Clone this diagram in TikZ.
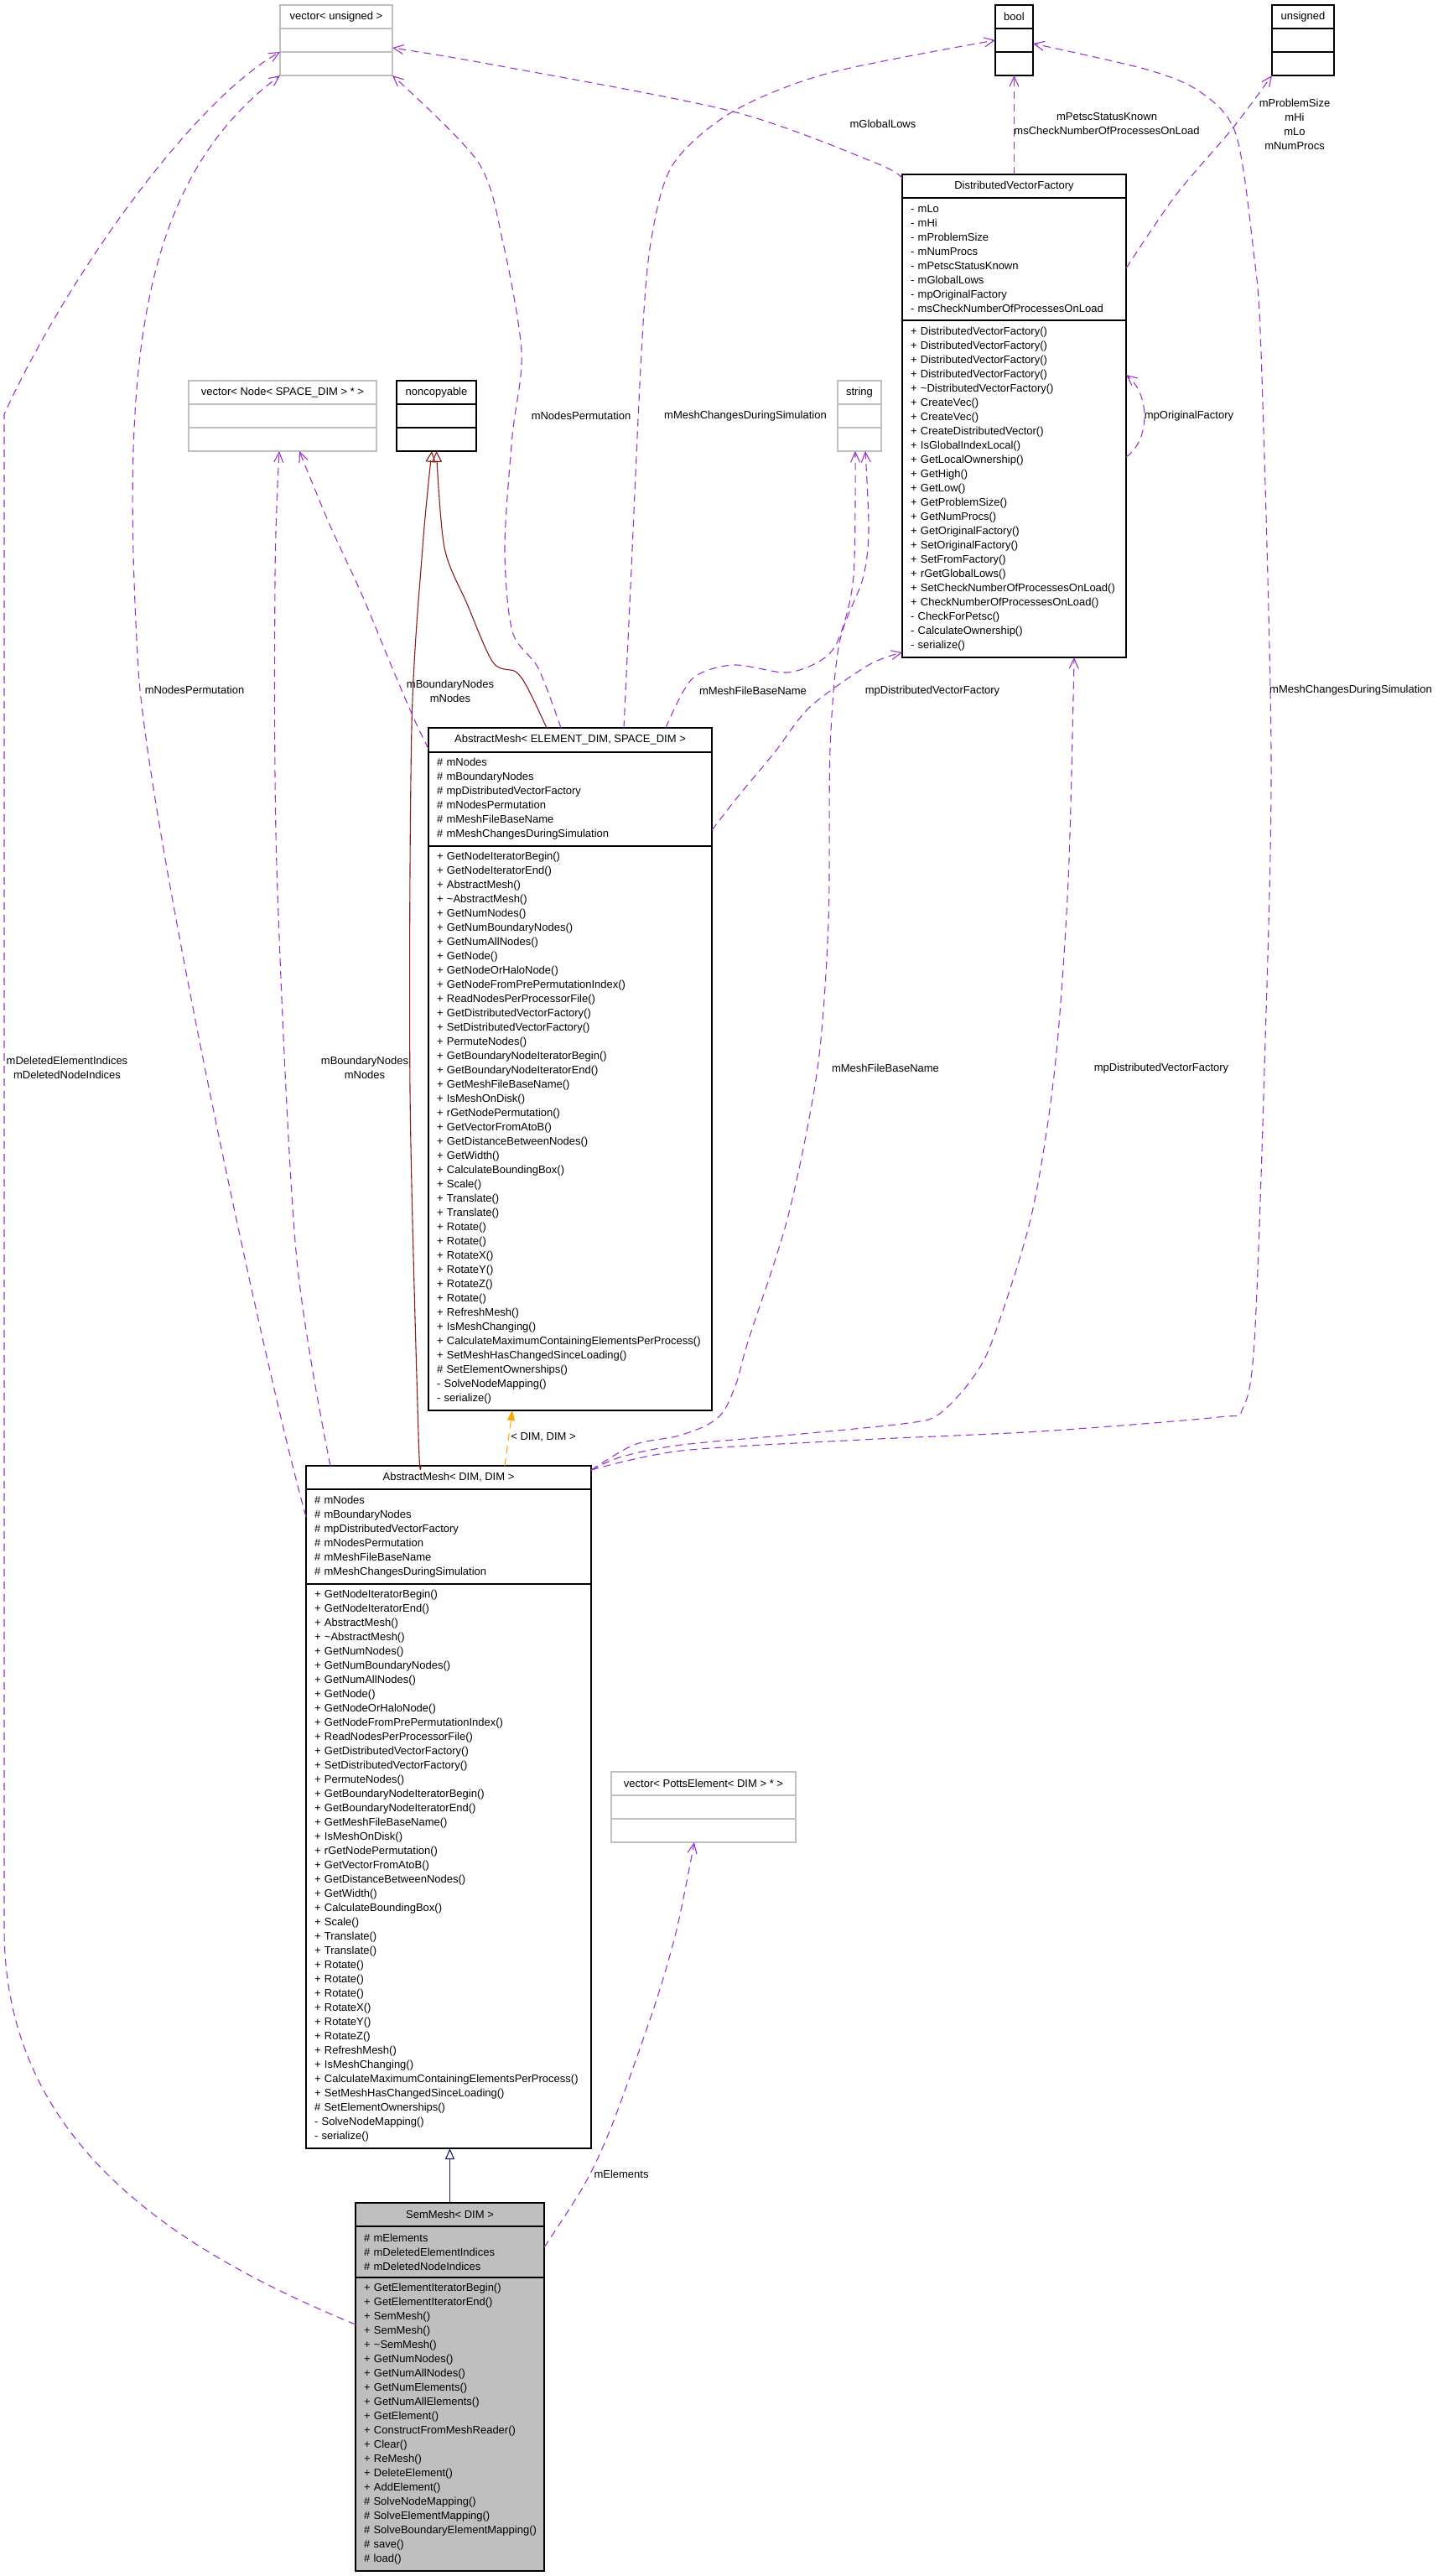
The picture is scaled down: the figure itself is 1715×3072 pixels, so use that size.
\documentclass[tikz,border=0pt]{standalone}
\usepackage{fontspec}
\setmainfont{Liberation Sans}
\usetikzlibrary{positioning,arrows.meta}

\definecolor{refpurple}{HTML}{9A32CD}
\definecolor{inhredc}{HTML}{8B1A1A}
\definecolor{inhbluec}{HTML}{191970}
\definecolor{tmplorangec}{HTML}{FFA500}
\definecolor{extgray}{HTML}{BFBFBF}

\newcommand{\umlfont}{\fontsize{13}{17}\selectfont}

\tikzset{
  cls/.style={draw=black, line width=1.3pt, outer sep=0pt, inner xsep=10pt, inner ysep=0pt, font=\umlfont},
  ext/.style={cls, draw=extgray},
  hdr/.style={anchor=north west, minimum height=28pt},
  part/.style={minimum height=28pt},
  mem/.style={align=left, execute at begin node={\hyphenpenalty=10000\exhyphenpenalty=10000}},
  lbl/.style={font=\umlfont, align=center, inner sep=0pt},
  ref/.style={draw=refpurple, line width=1.1pt, dash pattern=on 9pt off 6pt, -{Straight Barb[length=12pt,width=11pt]}},
  inh/.style={draw=inhredc, line width=1.1pt, -{Triangle[open,length=13pt,width=12pt]}},
  inhpub/.style={draw=inhbluec, line width=1.1pt, -{Triangle[open,length=13pt,width=11pt]}},
  tmpl/.style={draw=tmplorangec, line width=1.1pt, dash pattern=on 9pt off 6pt, -{Triangle[length=12pt,width=9pt]}}
}

\newcommand{\meshattrs}{\#~mNodes\\\#~mBoundaryNodes\\\#~mpDistributedVectorFactory\\\#~mNodesPermutation\\\#~mMeshFileBaseName\\\#~mMeshChangesDuringSimulation}

\begin{document}
\begin{tikzpicture}[x=1pt, y=-1pt]
    \useasboundingbox (0,0) rectangle (1715,3072);

    % 外部类型
    \node[ext, hdr, minimum width=134pt] (vecU) at (334,6) {vector< unsigned >};
    \node[ext, part, minimum width=134pt, below=0pt of vecU] (vecUa) {};
    \node[ext, part, minimum width=134pt, below=0pt of vecUa] (vecUm) {};

    \node[cls, hdr, minimum width=45pt] (boolC) at (1187,6) {bool};
    \node[cls, part, minimum width=45pt, below=0pt of boolC] (boolA) {};
    \node[cls, part, minimum width=45pt, below=0pt of boolA] (boolM) {};

    \node[cls, hdr, minimum width=74pt] (unsC) at (1517,6) {unsigned};
    \node[cls, part, minimum width=74pt, below=0pt of unsC] (unsA) {};
    \node[cls, part, minimum width=74pt, below=0pt of unsA] (unsM) {};

    \node[ext, hdr, minimum width=224pt] (vecN) at (225,454) {vector< Node< SPACE\_DIM > * >};
    \node[ext, part, minimum width=224pt, below=0pt of vecN] (vecNa) {};
    \node[ext, part, minimum width=224pt, below=0pt of vecNa] (vecNm) {};

    \node[cls, hdr, minimum width=95pt] (nonc) at (473,454) {noncopyable};
    \node[cls, part, minimum width=95pt, below=0pt of nonc] (noncA) {};
    \node[cls, part, minimum width=95pt, below=0pt of noncA] (noncM) {};

    \node[ext, hdr, minimum width=52pt] (strC) at (999,454) {string};
    \node[ext, part, minimum width=52pt, below=0pt of strC] (strA) {};
    \node[ext, part, minimum width=52pt, below=0pt of strA] (strM) {};

    \node[ext, hdr, minimum width=220pt] (vecP) at (729,2113) {vector< PottsElement< DIM > * >};
    \node[ext, part, minimum width=220pt, below=0pt of vecP] (vecPa) {};
    \node[ext, part, minimum width=220pt, below=0pt of vecPa] (vecPm) {};

    % DistributedVectorFactory
    \node[cls, hdr, minimum width=267pt] (dvf) at (1076,208) {DistributedVectorFactory};
    \node[cls, mem, text width=247pt, minimum height=146pt, below=0pt of dvf] (dvfA)
      {-~mLo\\-~mHi\\-~mProblemSize\\-~mNumProcs\\-~mPetscStatusKnown\\-~mGlobalLows\\-~mpOriginalFactory\\-~msCheckNumberOfProcessesOnLoad};
    \node[cls, mem, text width=247pt, minimum height=402pt, below=0pt of dvfA] (dvfM)
      {+~DistributedVectorFactory()\\+~DistributedVectorFactory()\\+~DistributedVectorFactory()\\+~DistributedVectorFactory()\\
       +~\textasciitilde DistributedVectorFactory()\\+~CreateVec()\\+~CreateVec()\\+~CreateDistributedVector()\\
       +~IsGlobalIndexLocal()\\+~GetLocalOwnership()\\+~GetHigh()\\+~GetLow()\\+~GetProblemSize()\\+~GetNumProcs()\\
       +~GetOriginalFactory()\\+~SetOriginalFactory()\\+~SetFromFactory()\\+~rGetGlobalLows()\\
       +~SetCheckNumberOfProcessesOnLoad()\\+~CheckNumberOfProcessesOnLoad()\\-~CheckForPetsc()\\-~CalculateOwnership()\\-~serialize()};

    % AbstractMesh< ELEMENT_DIM, SPACE_DIM >
    \node[cls, hdr, minimum width=338pt, minimum height=29pt] (amES) at (511,868) {AbstractMesh< ELEMENT\_DIM, SPACE\_DIM >};
    \node[cls, mem, text width=318pt, minimum height=112pt, below=0pt of amES] (amESa) {\meshattrs};
    \node[cls, mem, text width=318pt, minimum height=673pt, below=0pt of amESa] (amESm)
      {+~GetNodeIteratorBegin()\\+~GetNodeIteratorEnd()\\+~AbstractMesh()\\+~\textasciitilde AbstractMesh()\\+~GetNumNodes()\\
       +~GetNumBoundaryNodes()\\+~GetNumAllNodes()\\+~GetNode()\\+~GetNodeOrHaloNode()\\+~GetNodeFromPrePermutationIndex()\\
       +~ReadNodesPerProcessorFile()\\+~GetDistributedVectorFactory()\\+~SetDistributedVectorFactory()\\+~PermuteNodes()\\
       +~GetBoundaryNodeIteratorBegin()\\+~GetBoundaryNodeIteratorEnd()\\+~GetMeshFileBaseName()\\+~IsMeshOnDisk()\\
       +~rGetNodePermutation()\\+~GetVectorFromAtoB()\\+~GetDistanceBetweenNodes()\\+~GetWidth()\\+~CalculateBoundingBox()\\
       +~Scale()\\+~Translate()\\+~Translate()\\+~Rotate()\\+~Rotate()\\+~RotateX()\\+~RotateY()\\+~RotateZ()\\+~Rotate()\\
       +~RefreshMesh()\\+~IsMeshChanging()\\+~CalculateMaximumContainingElementsPerProcess()\\+~SetMeshHasChangedSinceLoading()\\
       \#~SetElementOwnerships()\\-~SolveNodeMapping()\\-~serialize()};

    % AbstractMesh< DIM, DIM >
    \node[cls, hdr, minimum width=340pt] (amDD) at (365,1748) {AbstractMesh< DIM, DIM >};
    \node[cls, mem, text width=320pt, minimum height=113pt, below=0pt of amDD] (amDDa) {\meshattrs};
    \node[cls, mem, text width=320pt, minimum height=673pt, below=0pt of amDDa] (amDDm)
      {+~GetNodeIteratorBegin()\\+~GetNodeIteratorEnd()\\+~AbstractMesh()\\+~\textasciitilde AbstractMesh()\\+~GetNumNodes()\\
       +~GetNumBoundaryNodes()\\+~GetNumAllNodes()\\+~GetNode()\\+~GetNodeOrHaloNode()\\+~GetNodeFromPrePermutationIndex()\\
       +~ReadNodesPerProcessorFile()\\+~GetDistributedVectorFactory()\\+~SetDistributedVectorFactory()\\+~PermuteNodes()\\
       +~GetBoundaryNodeIteratorBegin()\\+~GetBoundaryNodeIteratorEnd()\\+~GetMeshFileBaseName()\\+~IsMeshOnDisk()\\
       +~rGetNodePermutation()\\+~GetVectorFromAtoB()\\+~GetDistanceBetweenNodes()\\+~GetWidth()\\+~CalculateBoundingBox()\\
       +~Scale()\\+~Translate()\\+~Translate()\\+~Rotate()\\+~Rotate()\\+~Rotate()\\+~RotateX()\\+~RotateY()\\+~RotateZ()\\
       +~RefreshMesh()\\+~IsMeshChanging()\\+~CalculateMaximumContainingElementsPerProcess()\\+~SetMeshHasChangedSinceLoading()\\
       \#~SetElementOwnerships()\\-~SolveNodeMapping()\\-~serialize()};

    % SemMesh< DIM >
    \node[cls, hdr, fill=extgray, minimum width=225pt] (sem) at (424,2627) {SemMesh< DIM >};
    \node[cls, mem, fill=extgray, text width=205pt, minimum height=61pt, below=0pt of sem] (semA)
      {\#~mElements\\\#~mDeletedElementIndices\\\#~mDeletedNodeIndices};
    \node[cls, mem, fill=extgray, text width=205pt, minimum height=350pt, below=0pt of semA] (semM)
      {+~GetElementIteratorBegin()\\+~GetElementIteratorEnd()\\+~SemMesh()\\+~SemMesh()\\+~\textasciitilde SemMesh()\\
       +~GetNumNodes()\\+~GetNumAllNodes()\\+~GetNumElements()\\+~GetNumAllElements()\\+~GetElement()\\
       +~ConstructFromMeshReader()\\+~Clear()\\+~ReMesh()\\+~DeleteElement()\\+~AddElement()\\
       \#~SolveNodeMapping()\\\#~SolveElementMapping()\\\#~SolveBoundaryElementMapping()\\\#~save()\\\#~load()};

    % 继承
    \draw[inhpub] (sem.north) -- (sem.north |- amDDm.south);
    \draw[inh] plot[smooth] coordinates {([xshift=137pt]amDD.north west) (499,1710) (489,1300) (491,867) (504,653) ([xshift=-5.5pt]noncM.south)};
    \draw[inh] plot[smooth] coordinates {([xshift=141pt]amES.north west) (629,820) (615,801) (588,790) (557,720) (530,653) (noncM.south)};

    % 模板实例
    \draw[tmpl] ([xshift=237pt]amDD.north west) -- ([xshift=100pt]amESm.south west);
    \node[lbl] (lbTmpl) at (648,1714) {< DIM, DIM >};

    % SemMesh 的成员
    \draw[ref] ([yshift=-56pt]semM.north west) .. controls (200,2680) and (5,2550) .. (5,2300) -- (5,494) .. controls (80,330) and (230,120) .. (vecUm.north west);
    \node[lbl] (lbDeleted) at (80,1273) {mDeletedElementIndices\\mDeletedNodeIndices};
    \draw[ref] plot[smooth] coordinates {([yshift=-25pt]semA.north east) (697,2605) (730,2534) (780,2394) (807,2301) ([xshift=-11pt]vecPm.south)};
    \node[lbl] (lbElements) at (741,2593) {mElements};

    % AbstractMesh< DIM, DIM > 的成员
    \draw[ref] ([yshift=-33pt]amDDa.north west) .. controls (320,1650) and (180,1000) .. (165,800) .. controls (145,450) and (160,220) .. (vecUm.south west);
    \node[lbl] (lbPermL) at (232,823) {mNodesPermutation};
    \draw[ref] plot[smooth] coordinates {([xshift=29pt]amDD.north west) (353,1492) (330,1033) (328,689) ([xshift=-4pt]vecNm.south)};
    \node[lbl] (lbNodesL) at (435,1273) {mBoundaryNodes\\mNodes};
    \draw[ref] plot[smooth] coordinates {([yshift=-5pt]amDD.north east) (756,1723) (806,1713) (842,1700) (863,1683) (879,1647) (892,1600) (940,1450) (975,1274) (988,1100) (990,893) (1001,767) (1029,690) (1036,633) ([xshift=7pt]strM.south)};
    \node[lbl] (lbFileL) at (1056,1274) {mMeshFileBaseName};
    \draw[ref] plot[smooth] coordinates {([yshift=-5pt]amDD.north east) (742,1737) (813,1723) (956,1710) (1084,1697) (1119,1687) (1155,1650) (1183,1600) (1230,1450) (1258,1274) (1274,1050) ([xshift=71.5pt]dvfM.south)};
    \node[lbl] (lbFactL) at (1385,1274) {mpDistributedVectorFactory};
    \draw[ref] plot[smooth] coordinates {([yshift=-5pt]amDD.north east) (813,1730) (1027,1717) (1240,1707) (1453,1690) (1482,1680) (1496,1600) (1508,1274) (1516,900) (1504,420) (1495,300) (1474,160) (1432,110) (1368,83) ([yshift=-4pt]boolA.east)};
    \node[lbl] (lbChangesR) at (1611,823) {mMeshChangesDuringSimulation};

    % AbstractMesh< ELEMENT_DIM, SPACE_DIM > 的成员
    \draw[ref] plot[smooth] coordinates {([yshift=-25pt]amES.north west) (495,860) (468,797) (432,710) (392,623) ([xshift=20pt]vecNm.south)};
    \node[lbl] (lbNodesR) at (537,824) {mBoundaryNodes\\mNodes};
    \draw[ref] plot[smooth] coordinates {([xshift=158pt]amES.north west) (642,797) (611,753) (602,653) (611,520) (622,420) (600,290) (570,193) (vecUm.south east)};
    \node[lbl] (lbPermR) at (693,496) {mNodesPermutation};
    \draw[ref] plot[smooth] coordinates {([xshift=233pt]amES.north west) (752,700) (765,420) (776,290) (802,197) (874,133) (989,87) (boolA.west)};
    \node[lbl] (lbChangesL) at (889,496) {mMeshChangesDuringSimulation};
    \draw[ref] plot[smooth] coordinates {([xshift=283pt]amES.north west) (825,810) (874,793) (938,802) (980,787) (1001,760) (1018,687) ([xshift=-5pt]strM.south)};
    \node[lbl] (lbFileR) at (898,824) {mMeshFileBaseName};
    \draw[ref] plot[smooth] coordinates {([yshift=-37pt]amESa.east) (880,950) (924,897) (966,843) (1036,793) ([yshift=6pt]dvfM.south west)};
    \node[lbl] (lbFactR) at (1112,824) {mpDistributedVectorFactory};

    % DistributedVectorFactory 的成员
    \draw[ref] plot[smooth] coordinates {([yshift=-5pt]dvf.north west) (1046,195) (874,133) (587,77) ([yshift=-9pt]vecUa.east)};
    \node[lbl] (lbLows) at (1053,148) {mGlobalLows};
    \draw[ref] (dvf.north) -- (boolM.south);
    \node[lbl] (lbPetsc) at (1320,148) {mPetscStatusKnown\\msCheckNumberOfProcessesOnLoad};
    \draw[ref] plot[smooth] coordinates {([yshift=-11pt]dvfA.east) (1402,233) (1470,153) (unsM.south west)};
    \node[lbl] (lbSizes) at (1544,148) {mProblemSize\\mHi\\mLo\\mNumProcs};
    \draw[ref] ([yshift=-163pt]dvfM.north east) .. controls (1372,525) and (1372,470) .. ([yshift=-65pt]dvfM.north east);
    \node[lbl] (lbOrig) at (1418,496) {mpOriginalFactory};
\end{tikzpicture}
\end{document}
